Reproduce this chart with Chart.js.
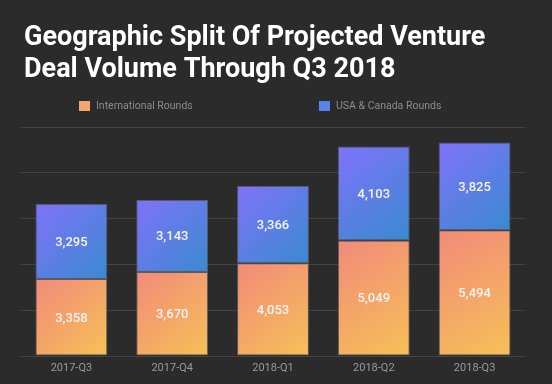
<!DOCTYPE html>
<html>
<head>
<meta charset="utf-8">
<script src="https://cdn.jsdelivr.net/npm/chart.js@4.4.1/dist/chart.umd.min.js"></script>
<style>
html,body{margin:0;padding:0;background:#2b2b2b;}
#wrap{width:552px;height:384px;position:relative;}
</style>
</head>
<body>
<div id="wrap"><canvas id="c" width="552" height="384"></canvas></div>
<script>
const titleLines = ["Geographic Split Of Projected Venture", "Deal Volume Through Q3 2018"];
const categories = ["2017-Q3", "2017-Q4", "2018-Q1", "2018-Q2", "2018-Q3"];
const seriesNames = ["International Rounds", "USA & Canada Rounds"];
const international = [3358, 3670, 4053, 5049, 5494];
const usaCanada = [3295, 3143, 3366, 4103, 3825];
const yTicks = [0, 2000, 4000, 6000, 8000, 10000];

const BAR_PCT = 0.713;
const gradStops = [["#f28a7a", "#f6c057"], ["#8072fa", "#3a8acf"]];
const legendColors = ["#f6a56e", "#5b82ea"];

function barGradient(ctx) {
  const chart = ctx.chart;
  const ds = ctx.datasetIndex;
  const stops = gradStops[ds];
  if (!chart.chartArea || !chart.scales.x || !chart.scales.y || ctx.dataIndex === undefined) return stops[0];
  const xs = chart.scales.x, ys = chart.scales.y;
  const cx = xs.getPixelForValue(ctx.dataIndex);
  const w = (xs.width / categories.length) * BAR_PCT;
  const v0 = international[ctx.dataIndex], v1 = usaCanada[ctx.dataIndex];
  const lo = ds === 0 ? 0 : v0;
  const hi = ds === 0 ? v0 : v0 + v1;
  const top = ys.getPixelForValue(hi), bot = ys.getPixelForValue(lo);
  const g = chart.ctx.createLinearGradient(cx - w / 2, top, cx + w / 2, bot);
  g.addColorStop(0, stops[0]);
  g.addColorStop(1, stops[1]);
  return g;
}

const overlay = {
  id: 'overlay',
  afterDraw(chart) {
    const c = chart.ctx;
    c.save();
    c.fillStyle = '#ffffff';
    c.font = 'bold 27px Roboto';
    c.textAlign = 'left';
    c.textBaseline = 'alphabetic';
    c.fillText(titleLines[0], 24, 45);
    c.fillText(titleLines[1], 24, 77);
    const lx = [79, 319];
    c.font = '10.5px Roboto';
    c.textBaseline = 'middle';
    for (let i = 0; i < seriesNames.length; i++) {
      c.fillStyle = legendColors[i];
      c.fillRect(lx[i], 101, 11, 10);
      c.fillStyle = '#8c8c8c';
      c.fillText(seriesNames[i], lx[i] + 17, 106.5);
    }
    c.font = '500 13px Roboto';
    c.textAlign = 'center';
    c.fillStyle = '#f4f4f4';
    chart.data.datasets.forEach((d, di) => {
      const meta = chart.getDatasetMeta(di);
      meta.data.forEach((el, i) => {
        const p = el.getProps(['x', 'y', 'base'], true);
        c.fillText(d.data[i].toLocaleString('en-US'), p.x, (p.y + p.base) / 2 + 1);
      });
    });
    c.restore();
  }
};

new Chart(document.getElementById('c'), {
  type: 'bar',
  data: {
    labels: categories,
    datasets: [
      { label: seriesNames[0], data: international, backgroundColor: barGradient,
        borderColor: 'rgba(130,130,145,0.55)', borderWidth: 1, borderSkipped: false,
        barPercentage: BAR_PCT, categoryPercentage: 1.0 },
      { label: seriesNames[1], data: usaCanada, backgroundColor: barGradient,
        borderColor: 'rgba(120,120,150,0.6)', borderWidth: 1, borderSkipped: false,
        barPercentage: BAR_PCT, categoryPercentage: 1.0 }
    ]
  },
  options: {
    responsive: false,
    animation: false,
    layout: { padding: { left: 21, right: 27, top: 127, bottom: 6 } },
    plugins: { legend: { display: false }, title: { display: false }, tooltip: { enabled: false } },
    scales: {
      x: {
        stacked: true,
        grid: { display: false, drawTicks: false },
        border: { display: false },
        ticks: { color: '#9a9a9a', font: { family: 'Roboto', size: 11 }, padding: 6 },
        afterFit(axis) { axis.height = 22; }
      },
      y: {
        stacked: true,
        min: 0, max: 10000,
        afterBuildTicks(axis) { axis.ticks = yTicks.map(v => ({ value: v })); },
        grid: { color: '#434343', drawTicks: false, lineWidth: 1 },
        border: { display: false },
        ticks: { display: false }
      }
    }
  },
  plugins: [overlay]
});
</script>
</body>
</html>
